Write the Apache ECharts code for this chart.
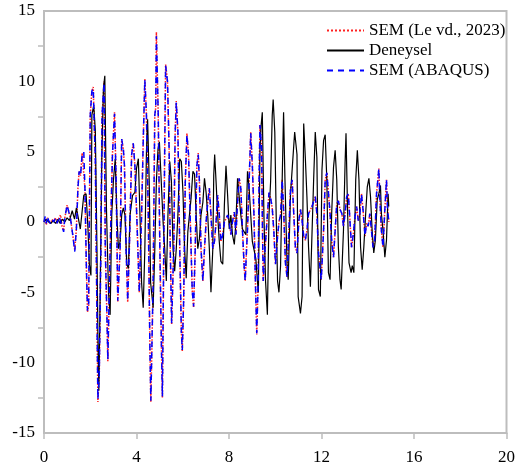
<!DOCTYPE html>
<html>
<head>
<meta charset="utf-8">
<script src="https://cdn.jsdelivr.net/npm/echarts@6/dist/echarts.min.js"></script>
<style>html,body{margin:0;padding:0;background:#fff}#c{width:518px;height:474px}</style>
</head>
<body>
<div id="c"></div>
<script>
// ---- data ----
const seriesNames = ['SEM (Le vd., 2023)', 'Deneysel', 'SEM (ABAQUS)'];
const xTicks = [0, 4, 8, 12, 16, 20];
const yTicks = [-15, -10, -5, 0, 5, 10, 15];

const semTime = [0.00,0.05,0.10,0.15,0.20,0.28,0.35,0.42,0.50,0.57,0.65,0.72,0.78,0.85,0.90,1.00,1.08,1.15,1.25,1.33,1.40,1.47,1.52,1.58,1.65,1.72,1.77,1.83,1.88,1.93,2.00,2.07,2.13,2.17,2.22,2.26,2.29,2.33,2.39,2.46,2.51,2.55,2.60,2.65,2.72,2.76,2.86,2.96,3.05,3.12,3.19,3.29,3.36,3.43,3.48,3.55,3.62,3.69,3.79,3.86,3.93,4.01,4.12,4.22,4.29,4.36,4.43,4.51,4.58,4.62,4.72,4.79,4.83,4.86,4.94,5.01,5.08,5.12,5.22,5.26,5.34,5.41,5.46,5.52,5.61,5.67,5.72,5.79,5.87,5.94,5.98,6.04,6.11,6.18,6.25,6.32,6.41,6.47,6.54,6.61,6.67,6.72,6.79,6.87,6.94,7.01,7.08,7.15,7.22,7.30,7.37,7.44,7.51,7.58,7.65,7.73,7.80,7.87,7.94,8.01,8.08,8.15,8.23,8.30,8.37,8.44,8.51,8.58,8.66,8.70,8.76,8.80,8.87,8.94,9.01,9.08,9.16,9.20,9.26,9.30,9.34,9.41,9.44,9.48,9.56,9.66,9.73,9.80,9.87,9.94,10.01,10.08,10.16,10.23,10.30,10.37,10.44,10.51,10.59,10.66,10.73,10.80,10.87,10.94,11.02,11.09,11.16,11.23,11.30,11.37,11.44,11.59,11.73,11.80,11.87,11.99,12.09,12.16,12.23,12.30,12.37,12.44,12.52,12.59,12.66,12.73,12.80,12.88,12.95,13.02,13.09,13.16,13.23,13.30,13.38,13.45,13.52,13.59,13.66,13.73,13.80,13.88,13.95,14.02,14.09,14.16,14.23,14.30,14.38,14.48,14.52,14.59,14.66,14.73,14.81,14.85,14.91];

const semLe = [0.0,0.2,-0.2,0.3,0.1,-0.1,0.2,0.0,0.3,-0.1,0.3,0.5,-0.3,-0.6,0.3,1.2,1.1,0.2,-1.0,-2.0,-0.5,2.5,3.6,3.3,4.9,5.0,2.4,-3.0,-6.4,-6.0,7.6,9.3,9.6,7.1,4.5,-1.9,-6.6,-12.8,-10.8,-1.9,7.6,8.6,10.0,-1.9,-6.6,-9.9,-2.0,4.8,7.8,2.9,-5.7,-2.0,5.9,5.2,4.0,-1.9,-5.7,-1.9,4.8,5.6,4.0,0.5,-5.0,0.5,5.7,10.2,7.6,0.5,-9.0,-12.8,-4.3,7.6,8.1,13.5,7.6,-1.9,-9.0,-12.5,5.2,11.2,10.0,5.2,-1.9,-7.3,-1.9,6.2,8.6,6.4,-1.9,-7.8,-9.2,-5.5,2.9,6.3,4.8,0.5,-4.9,-6.1,-1.9,4.0,4.9,2.9,-1.9,-4.2,-1.9,0.0,1.4,2.4,0.5,-1.9,-1.4,0.0,1.9,0.5,-1.4,-0.9,0.0,0.0,0.5,0.0,-0.9,0.0,0.7,-0.9,1.4,3.1,2.4,-0.5,-3.3,-4.2,-1.9,-0.5,2.9,6.4,4.0,0.5,-5.5,-8.0,-4.3,2.9,6.9,5.2,0.5,-4.2,-1.9,0.5,2.1,1.7,1.0,-0.7,-3.0,-1.4,0.0,0.5,3.0,0.6,-2.9,-3.9,-0.6,2.3,3.0,0.6,-1.8,-2.2,0.1,0.9,0.1,-1.0,-1.3,-0.6,0.6,1.1,1.8,0.6,-2.2,-4.1,-0.6,3.0,3.5,2.1,0.6,-1.3,-2.5,-0.6,1.3,1.5,0.9,0.6,-0.3,0.6,1.8,2.0,0.1,-1.8,-0.8,0.4,1.1,0.1,0.6,2.0,0.8,-1.0,-0.1,-0.3,0.6,-0.6,-1.8,-1.3,2.0,3.8,1.8,-0.6,-1.8,0.6,3.0,1.1,0.0];

const semAbaqus = [0.0,0.4,-0.1,0.4,0.1,-0.1,0.2,0.0,0.3,-0.1,0.4,0.5,-0.3,-0.7,0.3,1.2,1.1,0.2,-1.0,-2.1,-0.5,2.5,3.6,3.3,4.8,5.0,2.4,-3.0,-6.3,-6.0,7.6,9.3,9.5,7.1,4.5,-1.9,-6.6,-12.6,-10.8,-1.9,7.6,8.6,9.9,-1.9,-6.6,-9.8,-2.0,4.8,7.7,2.9,-5.6,-2.0,5.9,5.2,4.0,-1.9,-5.6,-1.9,4.8,5.6,4.0,0.5,-5.0,0.5,5.7,10.1,7.6,0.5,-9.0,-12.7,-4.3,7.6,8.1,13.2,7.6,-1.9,-9.0,-12.4,5.2,11.1,10.0,5.2,-1.9,-7.2,-1.9,6.2,8.5,6.4,-1.9,-7.8,-9.1,-5.5,2.9,6.2,4.8,0.5,-4.9,-6.0,-1.9,4.0,4.8,2.9,-1.9,-4.2,-1.9,0.0,1.4,2.4,0.5,-1.9,-1.4,0.0,1.9,0.5,-1.4,-0.9,0.0,0.0,0.5,0.0,-0.9,0.0,0.7,-0.9,1.4,3.1,2.4,-0.5,-3.3,-4.2,-1.9,-0.5,2.9,6.3,4.0,0.5,-5.5,-7.9,-4.3,2.9,6.9,5.2,0.5,-4.2,-1.9,0.5,2.1,1.7,1.0,-0.7,-3.0,-1.4,0.0,0.5,3.0,0.6,-2.9,-3.9,-0.6,2.3,3.0,0.6,-1.8,-2.2,0.1,0.9,0.1,-1.0,-1.3,-0.6,0.6,1.1,1.8,0.6,-2.2,-4.1,-0.6,3.0,3.5,2.1,0.6,-1.3,-2.5,-0.6,1.3,1.5,0.9,0.6,-0.3,0.6,1.8,2.0,0.1,-1.8,-0.8,0.4,1.1,0.1,0.6,2.0,0.8,-1.0,-0.1,-0.3,0.6,-0.6,-1.8,-1.3,2.0,3.8,1.8,-0.6,-1.8,0.6,3.0,1.1,0.0];

const expTime = [0.00,0.10,0.20,0.30,0.40,0.50,0.60,0.70,0.80,0.90,1.00,1.10,1.22,1.32,1.40,1.47,1.57,1.65,1.72,1.82,1.90,1.96,2.03,2.07,2.15,2.22,2.29,2.33,2.37,2.43,2.50,2.57,2.63,2.70,2.79,2.86,2.93,3.00,3.08,3.15,3.22,3.29,3.36,3.43,3.50,3.58,3.65,3.72,3.83,3.93,4.00,4.08,4.15,4.22,4.29,4.36,4.43,4.48,4.55,4.61,4.72,4.79,4.86,4.93,4.99,5.07,5.15,5.22,5.29,5.36,5.44,5.51,5.58,5.65,5.72,5.79,5.87,5.94,6.01,6.08,6.15,6.22,6.36,6.44,6.51,6.58,6.65,6.72,6.79,6.87,6.94,7.01,7.08,7.15,7.22,7.30,7.34,7.38,7.44,7.51,7.58,7.65,7.73,7.80,7.87,7.94,8.01,8.08,8.15,8.23,8.30,8.37,8.44,8.51,8.58,8.66,8.73,8.80,8.87,8.94,9.01,9.08,9.16,9.23,9.27,9.34,9.39,9.44,9.51,9.58,9.66,9.73,9.80,9.87,9.91,9.98,10.04,10.10,10.16,10.23,10.30,10.36,10.42,10.51,10.56,10.66,10.84,10.94,10.99,11.09,11.16,11.23,11.30,11.37,11.44,11.52,11.59,11.66,11.73,11.80,11.87,11.95,12.02,12.09,12.16,12.23,12.30,12.37,12.44,12.52,12.59,12.66,12.73,12.80,12.85,12.95,13.02,13.06,13.13,13.19,13.28,13.33,13.40,13.48,13.55,13.62,13.69,13.76,13.83,13.91,13.98,14.05,14.12,14.19,14.26,14.33,14.41,14.48,14.55,14.59,14.66,14.74,14.81,14.88,14.91];

const expValues = [0.0,0.2,0.0,-0.1,0.1,-0.1,0.2,-0.1,0.2,0.0,0.3,0.1,0.8,0.2,1.0,0.4,-0.5,-0.5,1.9,2.0,-0.4,-3.0,-3.8,7.6,8.3,6.5,-1.9,-8.0,-12.0,-5.0,4.5,9.5,10.4,1.0,-5.0,-6.6,0.5,2.9,4.5,0.5,-1.9,-1.4,0.5,1.0,0.5,-3.0,-3.3,0.5,1.9,2.1,3.8,4.5,0.5,-4.3,-6.1,-2.0,5.0,7.3,2.9,-4.3,-6.1,-2.0,2.9,5.2,5.7,2.9,0.0,-1.9,-4.2,0.5,4.3,2.9,-1.9,-3.5,-1.9,0.5,4.5,4.3,2.1,-1.9,-4.0,-0.7,1.7,3.6,3.4,0.5,-1.9,-1.2,0.5,1.4,3.1,2.1,0.5,-1.9,-5.0,-1.9,3.3,4.8,2.9,0.5,-1.4,-2.8,-3.0,1.2,4.0,1.9,-0.5,0.5,-0.9,-1.6,0.0,3.1,3.1,0.5,-0.5,-0.5,-0.9,3.6,2.4,0.5,-1.4,-1.4,-2.6,-4.2,-5.0,5.2,6.9,7.8,0.5,-4.2,-6.6,0.5,2.9,7.6,8.7,6.4,0.5,-4.2,-5.0,-3.1,3.0,7.8,3.0,-3.0,-4.1,2.0,6.4,4.8,-5.3,-6.5,-5.3,7.0,4.6,1.8,-1.8,-4.6,-4.6,3.0,6.4,4.6,-4.8,-5.3,3.7,5.8,6.2,3.0,-3.6,-4.1,0.6,3.9,5.1,3.0,-1.8,-4.1,-4.8,-0.6,4.2,6.3,0.6,-2.9,-3.6,-3.1,-3.6,3.0,5.1,3.0,-1.8,-3.4,-1.8,0.6,2.5,3.1,1.8,-0.6,-2.2,-1.3,1.6,2.0,2.6,0.6,-0.6,-2.5,-1.3,2.0,1.1];

// ---- chart ----
const zip = (xs, ys) => xs.map((x, i) => [x, ys[i]]);
const FONT = 'Liberation Serif';
const AXIS_COLOR = '#bdbdbd';

const chart = echarts.init(document.getElementById('c'), null, { renderer: 'canvas' });
chart.setOption({
  animation: false,
  backgroundColor: '#ffffff',
  grid: { left: 44, right: 8, top: 11, bottom: 41, show: true, borderColor: AXIS_COLOR, borderWidth: 2, containLabel: false },
  legend: {
    orient: 'vertical', left: 321, top: 17, itemWidth: 37, itemHeight: 12, itemGap: 3,
    itemStyle: { opacity: 0 },
    textStyle: { fontFamily: FONT, fontSize: 17, color: '#000', padding: [0, 0, 0, 0] },
    data: seriesNames.slice()
  },
  xAxis: {
    type: 'value', min: xTicks[0], max: xTicks[xTicks.length - 1], interval: 4,
    axisLine: { show: true, onZero: false, lineStyle: { color: AXIS_COLOR, width: 2 } },
    axisTick: { show: true, length: 6, lineStyle: { color: AXIS_COLOR, width: 1.5 } },
    axisLabel: { fontFamily: FONT, fontSize: 17, color: '#000', margin: 16 },
    splitLine: { show: false }
  },
  yAxis: {
    type: 'value', min: yTicks[0], max: yTicks[yTicks.length - 1], interval: 5,
    axisLine: { show: true, onZero: false, lineStyle: { color: AXIS_COLOR, width: 2 } },
    axisTick: { show: false },
    minorTick: { show: true, splitNumber: 2, length: 6, lineStyle: { color: AXIS_COLOR, width: 1.5 } },
    axisLabel: { fontFamily: FONT, fontSize: 17, color: '#000', margin: 9 },
    splitLine: { show: false }
  },
  series: [
    { name: seriesNames[0], type: 'line', symbol: 'none', data: zip(semTime, semLe),
      lineStyle: { color: '#ff2020', width: 1.5, type: 'dotted' }, itemStyle: { color: '#ff2020' } },
    { name: seriesNames[1], type: 'line', symbol: 'none', data: zip(expTime, expValues),
      lineStyle: { color: '#000000', width: 1.2, type: 'solid' }, itemStyle: { color: '#000000' } },
    { name: seriesNames[2], type: 'line', symbol: 'none', data: zip(semTime, semAbaqus),
      lineStyle: { color: '#0000ff', width: 1.5, type: [6, 5] }, itemStyle: { color: '#0000ff' } }
  ]
});
</script>
</body>
</html>
